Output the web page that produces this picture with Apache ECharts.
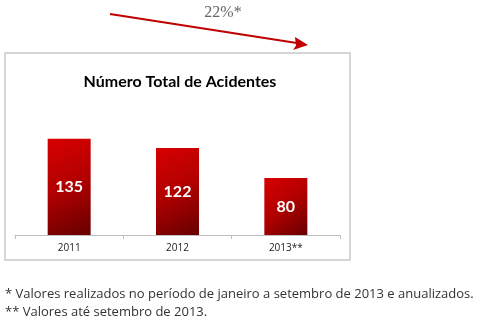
<!DOCTYPE html>
<html>
<head>
<meta charset="utf-8">
<script src="https://cdn.jsdelivr.net/npm/echarts@6/dist/echarts.min.js"></script>
<style>html,body{margin:0;padding:0;background:#fff}#c{width:490px;height:326px}</style>
</head>
<body>
<div id="c"></div>
<script>
const categories = ['2011', '2012', '2013**'];
const values = [135, 122, 80];
const chartTitle = 'Número Total de Acidentes';
const trendLabel = '22%*';
const notes = [
  '* Valores realizados no período de janeiro a setembro de 2013 e anualizados.',
  '** Valores até setembro de 2013.'
];

const chart = echarts.init(document.getElementById('c'), null, {renderer: 'canvas'});
const barGrad = new echarts.graphic.LinearGradient(0, 0, 1, 1, [
  {offset: 0, color: '#d80000'},
  {offset: 0.5, color: '#b00000'},
  {offset: 1, color: '#660000'}
]);
chart.setOption({
  animation: false,
  backgroundColor: '#fff',
  title: {
    text: chartTitle, left: 175, top: 69, textAlign: 'center',
    textStyle: {fontFamily: 'Lato', fontWeight: 'bold', fontSize: 16, color: '#000'}
  },
  grid: {left: 15, right: 150, top: 128, bottom: 91},
  xAxis: {
    type: 'category', data: categories,
    axisLine: {lineStyle: {color: '#bfbfbf', width: 1}},
    axisTick: {show: true, length: 4, lineStyle: {color: '#bfbfbf'}},
    axisLabel: {color: '#222', fontSize: 10, fontFamily: 'Open Sans', margin: 8}
  },
  yAxis: {type: 'value', min: 0, max: 150, show: false, splitLine: {show: false}},
  series: [{
    type: 'bar', data: values, barWidth: 43,
    itemStyle: {color: barGrad},
    label: {show: true, position: 'inside', color: '#fff', fontSize: 16, fontWeight: 'bold', fontFamily: 'Lato'}
  }],
  graphic: [
    {type: 'rect', shape: {x: 5, y: 53, width: 345, height: 207}, style: {fill: 'none', stroke: '#c9c9c9', lineWidth: 1.5}, z: -1},
    {type: 'line', shape: {x1: 110, y1: 14, x2: 300, y2: 43.5}, style: {stroke: '#c00000', lineWidth: 2.2}},
    {type: 'polygon', shape: {points: [[308, 45], [295, 37], [296, 45.5], [293, 50]]}, style: {fill: '#c00000'}},
    {type: 'text', x: 223, y: 13, style: {text: trendLabel, fill: '#666', font: '16px "Liberation Serif"', align: 'center', verticalAlign: 'middle'}},
    {type: 'text', x: 5, y: 294, style: {text: notes[0], fill: '#333', font: '13px "Open Sans"', verticalAlign: 'middle'}},
    {type: 'text', x: 5, y: 312, style: {text: notes[1], fill: '#333', font: '13px "Open Sans"', verticalAlign: 'middle'}}
  ]
});
</script>
</body>
</html>
